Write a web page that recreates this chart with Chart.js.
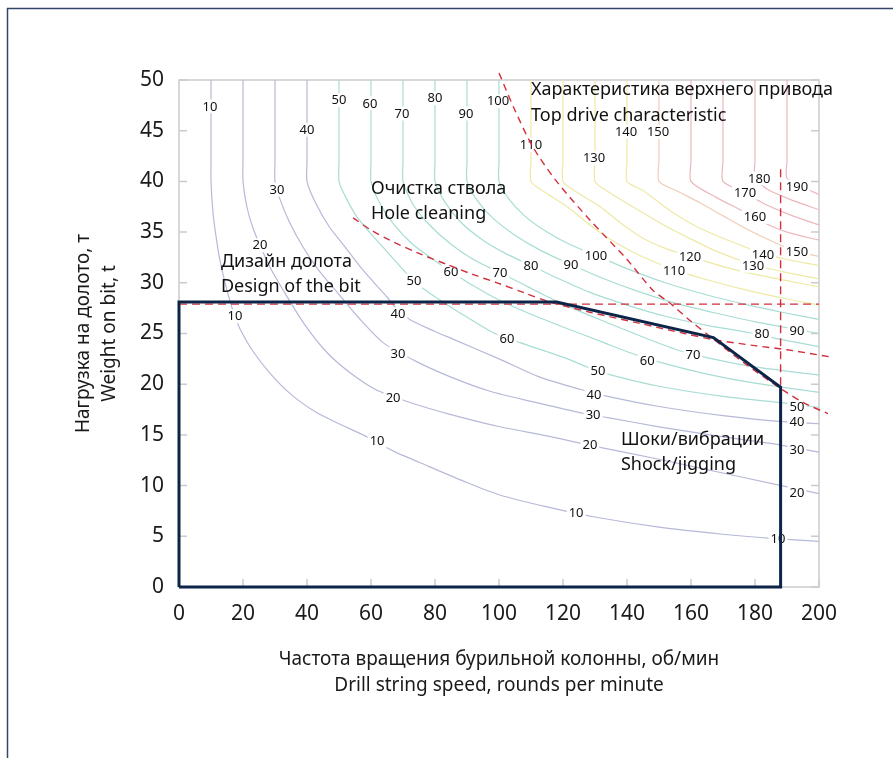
<!DOCTYPE html>
<html>
<head>
<meta charset="utf-8">
<script src="https://cdn.jsdelivr.net/npm/chart.js@4.4.1/dist/chart.umd.min.js"></script>
<style>
  html, body { margin: 0; padding: 0; background: #fff; }
  #wrap { width: 893px; height: 758px; }
</style>
</head>
<body>
<div id="wrap"><canvas id="chart" width="893" height="758"></canvas></div>
<script>
const FONT = '"Noto Sans", "DejaVu Sans", sans-serif';

// contour levels, each traced as [rpm, WOB] points
const levels = [10, 20, 30, 40, 50, 60, 70, 80, 90, 100, 110, 120, 130, 140, 150, 160, 170, 180, 190];

const c10 = [[10,50],[10,42],[10,40],[10.6,37],[11.6,34.5],[12.8,32.2],[14.8,29.5],[16.5,27.6],[17.5,26.7],[19,25.5],[23,23.3],[28.4,21.1],[35,19],[43,17.2],[50,16.1],[57.5,15],[67,13.4],[78,11.9],[90,10.3],[100,9.1],[115,7.9],[130,6.9],[150,5.9],[170,5.2],[185,4.8],[200,4.5]];
const c20 = [[20,50],[20,42],[20,40],[21.2,37.5],[23,35.5],[25.3,33.7],[28.5,31.5],[32.5,29.3],[39,26],[46.3,23.1],[54,21],[61.9,19.4],[72.2,18.2],[85,17],[100.3,15.8],[115,14.9],[128,14],[150,12.6],[175,10.9],[200,9.2]];
const c30 = [[30,50],[30,42],[30,40],[31.6,38.2],[34.5,36],[38.8,33.5],[43.5,31.3],[48.8,29.3],[56,26.6],[63.8,24.1],[74.4,22.2],[85,20.7],[97.2,19.3],[110,18.3],[125.3,17.2],[134,16.7],[150,15.8],[170,14.8],[188,14],[200,13.3]];
const c40 = [[40,50],[40,42],[40,40],[42.5,38],[47,35.5],[52,33.5],[56.6,31.6],[61,30],[65,28.6],[68.4,27.3],[72.5,26.3],[80,25.2],[86,24.4],[100,22.5],[112.8,20.7],[125.3,19.5],[134,18.8],[150,17.8],[170,16.9],[188.8,16.3],[200,16.1]];
const c50 = [[50,50],[50,42],[50,40],[52,38.5],[55.6,36.5],[59.5,35],[63.8,33.5],[70,31.3],[73.4,30.2],[77.8,29.1],[88,27],[98.1,25.1],[106.6,24.1],[115,23.2],[122.2,22.4],[127.5,21.7],[134,21],[150,19.8],[170,18.8],[190,18.1],[200,17.7]];
const c60 = [[60,50],[60,42],[60,40],[62.5,38],[67,35.8],[73,33.8],[79,32.4],[85,31.1],[92,29.7],[100,28.3],[110,26.9],[122,25.4],[132,24.2],[141,23.1],[151,22.1],[165,21],[180,20.1],[200,19.2]];
const c70 = [[70,50],[70,42],[70,40],[73,37.8],[78,35.8],[85,33.8],[92,32.3],[100.3,31],[106,30.1],[114,28.8],[122.2,27.6],[132,26.3],[143,24.9],[155.6,23.4],[165.3,22.6],[180,21.7],[200,20.9]];
const c80 = [[80,50],[80,42],[80,40],[83,38],[88,36],[95,34.2],[102,32.9],[110,31.7],[118,30.5],[128,29.1],[140,27.8],[152,26.7],[165,25.8],[177.8,25.1],[188.4,24.4],[200,23.7]];
const c90 = [[90,50],[90,42],[90,40],[93,38.2],[98,36.4],[105,34.7],[113,33.2],[122.5,31.8],[132,30.5],[143,29.2],[155,28],[168,27],[181,26.1],[193,25.4],[200,25]];
const c100 = [[100,50],[100,42],[100,40],[103,38.3],[108,36.6],[115,35],[122,33.8],[130.3,32.7],[140,31.4],[152,30],[165,28.8],[178,27.8],[190,27],[200,26.4]];
const c110 = [[110,50],[110,42],[110,40],[114,39],[121.3,37.5],[128,35.8],[134.7,34.3],[144,32.7],[154.7,31.3],[165,30.3],[177,29.3],[190,28.4],[200,27.8]];
const c120 = [[120,50],[120,42],[120,40],[124,39],[131.6,37.5],[138,35.9],[145,34.4],[152,33.4],[159.7,32.6],[170,31.6],[182,30.7],[200,29.6]];
const c130 = [[130,50],[130,42],[130,40],[134,39],[145,36.9],[152,35.6],[158.8,34.5],[168,33.1],[179.4,31.8],[190,31],[200,30.4]];
const c140 = [[140,50],[140,42],[140,40],[145,39.1],[154.4,36.9],[162,35.5],[170,34.4],[182.5,32.9],[190,32.3],[200,31.7]];
const c150 = [[150,50],[150,42],[150,40],[156,39],[162.8,37.9],[170,36.6],[178,35.2],[186,34],[193,33.1],[200,32.6]];
const c160 = [[160,50],[160,42],[160,40],[168,38.4],[176,37.1],[183,35.9],[190,35],[200,34.2]];
const c170 = [[170,50],[170,42],[170,40],[177,38.9],[182.2,37.9],[191,36.7],[200,35.7]];
const c180 = [[180,50],[180,42],[180,40.4],[184,39.2],[192,38.1],[200,37.2]];
const c190 = [[190,50],[190,42],[190,40.3],[196,39.3],[200,38.7]];
const contours = [c10, c20, c30, c40, c50, c60, c70, c80, c90, c100, c110, c120, c130, c140, c150, c160, c170, c180, c190];

// contour labels as printed on the map
const labelText = ['10','40','50','60','70','80','90','100','110','130','140','150','180','170','190','160','30','20',
  '50','60','70','80','90','100','120','110','140','130','150',
  '90','80','70','60','60','40','30','20','10','10',
  '50','40','30','20','10','50','40','30','20','10'];
const labelX = [9.7,40,50,59.7,69.7,80,89.7,99.7,110,129.7,139.7,149.7,181.3,176.9,193.1,180,30.6,25.3,
  73.4,85,100.3,110,122.5,130.3,159.7,154.7,182.5,179.4,193.1,
  193.1,182.2,160.6,146.3,102.5,68.4,68.4,66.9,61.9,17.5,
  130.9,129.7,129.4,128.4,124.1,193.1,193.1,193.1,193.1,187.2];
const labelY = [47.4,45.1,48,47.7,46.7,48.2,46.7,47.9,43.6,42.3,44.9,44.9,40.3,38.9,39.5,36.5,39.2,33.7,
  30.2,31.1,31,31.7,31.8,32.7,32.6,31.2,32.8,31.7,33.1,
  25.3,25,22.9,22.3,24.5,26.9,23,18.7,14.4,26.7,
  21.3,19,17,14,7.3,17.8,16.3,13.5,9.3,4.8];

// operating window (bit design / hole cleaning / top drive / shocks)
const windowX = [0, 0, 118, 167, 188, 188, 0];
const windowY = [0, 28.1, 28.1, 24.6, 19.7, 0, 0];
const bitLimitX = [0, 200];
const bitLimitY = [27.9, 27.9];
const cleaningX = [54.4, 60, 65.9, 75, 83.8, 92, 99.4, 108, 116, 128.4, 144, 158, 167, 180, 190, 203.4];
const cleaningY = [36.4, 35.2, 34.2, 32.9, 31.8, 30.8, 30, 29, 28.1, 27.1, 26, 25, 24.4, 23.8, 23.4, 22.7];
const topDriveX = [100, 105, 110.6, 118, 128.4, 140, 148, 153.4, 160, 166, 177, 188.4, 195, 202.8];
const topDriveY = [50.7, 47, 43.4, 40, 36.2, 32.3, 29.3, 28, 26.2, 24.7, 22, 19.5, 18.2, 17.1];
const shockX = [188, 188];
const shockY = [41.2, 19.7];

// region captions
const noteText = ['Характеристика верхнего привода', 'Top drive characteristic', 'Очистка ствола', 'Hole cleaning',
  'Дизайн долота', 'Design of the bit', 'Шоки/вибрации', 'Shock/jigging'];
const noteX = [110, 110, 60, 60, 13.1, 13.1, 138.1, 138.1];
const noteY = [49, 46.5, 39.25, 36.8, 32.1, 29.6, 14.5, 12];

function contourColor(level) {
  if (level <= 40) return '#b6b9d8';
  if (level <= 100) return '#a7ddd5';
  if (level <= 140) return '#eee9a4';
  if (level === 150) return '#f0cdb6';
  return '#ebb7bc';
}

function pts(xs, ys) {
  return xs.map((v, i) => ({x: v, y: ys[i]}));
}

const RED = '#d22f3d';
const overlays = [
  {data: pts(windowX, windowY), borderColor: '#0c2448', borderWidth: 3, tension: 0, clip: false},
  {data: pts(bitLimitX, bitLimitY), borderColor: RED, borderWidth: 1.4, borderDash: [8, 5], tension: 0, clip: false},
  {data: pts(cleaningX, cleaningY), borderColor: RED, borderWidth: 1.4, borderDash: [7, 5], tension: 0.3, clip: false},
  {data: pts(topDriveX, topDriveY), borderColor: RED, borderWidth: 1.4, borderDash: [7, 5], tension: 0.3, clip: false},
  {data: pts(shockX, shockY), borderColor: RED, borderWidth: 1.4, borderDash: [8, 5], tension: 0, clip: false}
];
const firstContour = overlays.length;

const contourSets = contours.map((c, i) => ({
  data: c.map(p => ({x: p[0], y: p[1]})),
  borderColor: contourColor(levels[i]),
  borderWidth: 1.2,
  tension: 0.25
}));

const decorations = {
  id: 'decorations',
  beforeDraw(chart) {
    const ctx = chart.ctx;
    ctx.save();
    ctx.fillStyle = '#fff';
    ctx.fillRect(0, 0, chart.width, chart.height);
    ctx.strokeStyle = '#33466a';
    ctx.lineWidth = 1.5;
    ctx.beginPath();
    ctx.moveTo(7.5, chart.height);
    ctx.lineTo(7.5, 8.5);
    ctx.lineTo(chart.width, 8.5);
    ctx.stroke();
    ctx.restore();
  },
  beforeDatasetsDraw(chart) {
    const {ctx, chartArea: a, scales: {x, y}} = chart;
    ctx.save();
    ctx.strokeStyle = '#cbcbcb';
    ctx.lineWidth = 1.5;
    ctx.strokeRect(a.left, a.top, a.right - a.left, a.bottom - a.top);
    ctx.beginPath();
    y.ticks.forEach(t => {
      const py = y.getPixelForValue(t.value);
      ctx.moveTo(a.left, py); ctx.lineTo(a.left + 8, py);
      ctx.moveTo(a.right - 8, py); ctx.lineTo(a.right, py);
    });
    x.ticks.forEach(t => {
      const px = x.getPixelForValue(t.value);
      ctx.moveTo(px, a.bottom); ctx.lineTo(px, a.bottom - 8);
    });
    ctx.stroke();
    ctx.restore();
  },
  afterDatasetDraw(chart, args) {
    // labels go on top of the contours but under the limit lines
    if (args.index !== firstContour) return;
    const {ctx, scales: {x, y}} = chart;
    ctx.save();
    ctx.font = '13px ' + FONT;
    ctx.textAlign = 'center';
    ctx.textBaseline = 'middle';
    labelText.forEach((t, i) => {
      const px = x.getPixelForValue(labelX[i]);
      const py = y.getPixelForValue(labelY[i]);
      const w = ctx.measureText(t).width + 4;
      ctx.fillStyle = '#fff';
      ctx.fillRect(px - w / 2, py - 7, w, 14);
      ctx.fillStyle = '#111';
      ctx.fillText(t, px, py + 0.5);
    });
    ctx.restore();
  },
  afterDraw(chart) {
    const {ctx, scales: {x, y}} = chart;
    ctx.save();
    ctx.font = '18px ' + FONT;
    ctx.fillStyle = '#111';
    ctx.textAlign = 'left';
    ctx.textBaseline = 'middle';
    noteText.forEach((t, i) => {
      ctx.fillText(t, x.getPixelForValue(noteX[i]), y.getPixelForValue(noteY[i]));
    });
    ctx.restore();
  }
};

new Chart(document.getElementById('chart'), {
  type: 'line',
  data: {datasets: overlays.concat(contourSets)},
  plugins: [decorations],
  options: {
    responsive: false,
    animation: false,
    layout: {padding: {left: 60, top: 80, right: 74, bottom: 59}},
    elements: {point: {radius: 0}},
    plugins: {legend: {display: false}, tooltip: {enabled: false}},
    scales: {
      x: {
        type: 'linear', min: 0, max: 200,
        grid: {display: false}, border: {display: false},
        ticks: {stepSize: 20, padding: 6, color: '#1a1a1a', font: {family: FONT, size: 21}},
        title: {display: true, color: '#1a1a1a', padding: {top: 0, bottom: 0},
          font: {family: FONT, size: 19, lineHeight: 1.37},
          text: ['Частота вращения бурильной колонны, об/мин', 'Drill string speed, rounds per minute']},
        afterFit(scale) { scale.height = 112; }
      },
      y: {
        type: 'linear', min: 0, max: 50,
        grid: {display: false}, border: {display: false},
        ticks: {stepSize: 5, padding: 7, color: '#1a1a1a', font: {family: FONT, size: 21}},
        title: {display: true, color: '#1a1a1a', padding: {top: 11, bottom: 0},
          font: {family: FONT, size: 19, lineHeight: 1.37},
          text: ['Нагрузка на долото, т', 'Weight on bit, t']},
        afterFit(scale) { scale.width = 119; }
      }
    }
  }
});
</script>
</body>
</html>
